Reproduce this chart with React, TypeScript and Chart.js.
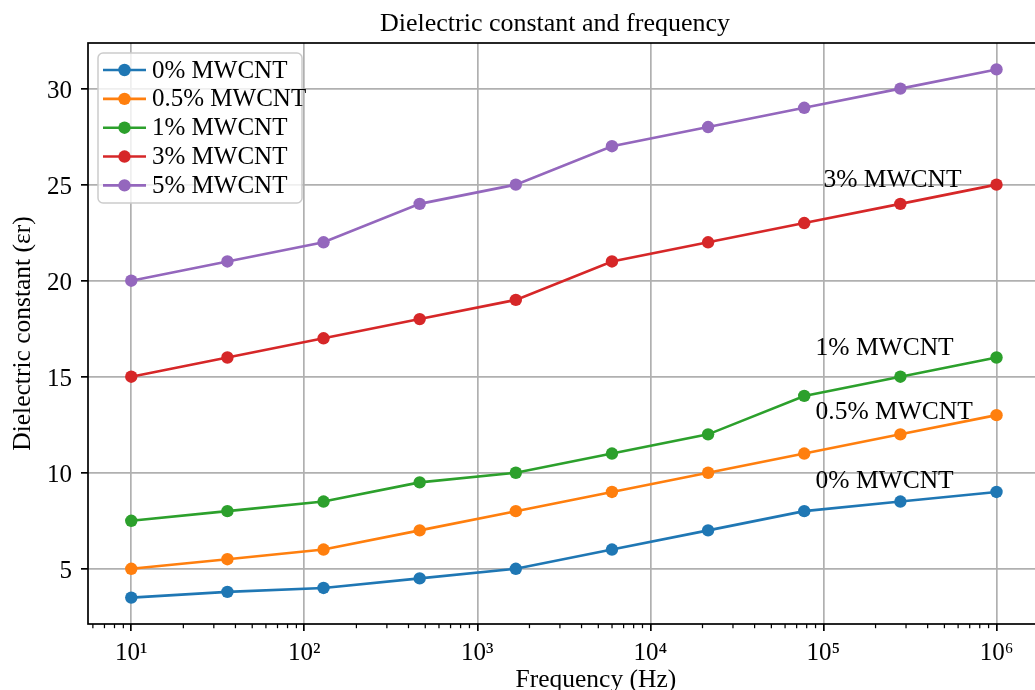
import React, { useEffect, useRef } from 'react';
import { Chart, registerables } from 'chart.js';

Chart.register(...registerables);

const FONT = "'Liberation Serif', 'Times New Roman', Times, serif";

// ---- data ----
const frequencies = [10, 35.94, 129.15, 464.16, 1668.1, 5994.8, 21544, 77426, 278256, 1000000];
const seriesLabels = ['0% MWCNT', '0.5% MWCNT', '1% MWCNT', '3% MWCNT', '5% MWCNT'];
const mwcnt0 = [3.5, 3.8, 4.0, 4.5, 5.0, 6.0, 7.0, 8.0, 8.5, 9.0];
const mwcnt05 = [5.0, 5.5, 6.0, 7.0, 8.0, 9.0, 10.0, 11.0, 12.0, 13.0];
const mwcnt1 = [7.5, 8.0, 8.5, 9.5, 10.0, 11.0, 12.0, 14.0, 15.0, 16.0];
const mwcnt3 = [15, 16, 17, 18, 19, 21, 22, 23, 24, 25];
const mwcnt5 = [20, 21, 22, 24, 25, 27, 28, 29, 30, 31];
const seriesValues = [mwcnt0, mwcnt05, mwcnt1, mwcnt3, mwcnt5];
const seriesColors = ['#1f77b4', '#ff7f0e', '#2ca02c', '#d62728', '#9467bd'];

const xMajorTicks = [10, 100, 1000, 10000, 100000, 1000000];
const xTickLabels = ['10¹', '10²', '10³', '10⁴', '10⁵', '10⁶'];
const yTicks = [5, 10, 15, 20, 25, 30];

const annotationTexts = ['3% MWCNT', '1% MWCNT', '0.5% MWCNT', '0% MWCNT'];
const annotationX = [100000, 90000, 90000, 90000];
const annotationY = [24.9, 16.15, 12.8, 9.2];

const titleText = 'Dielectric constant and frequency';
const xTitle = 'Frequency (Hz)';
const yTitle = 'Dielectric constant (εr)';

// axis limits
const X_MIN = Math.pow(10, 0.75);
const X_MAX = Math.pow(10, 6.62);
const X_SPINE_END = Math.pow(10, 6.25);
const Y_MIN = 2.125;
const Y_MAX = 32.375;

const overlayPlugin = {
  id: 'mplOverlay',
  afterDatasetsDraw(chart: any) {
    const { ctx, chartArea: ca, scales } = chart;
    const xs = scales.x;
    const ys = scales.y;
    ctx.save();

    // spines
    const rightEdge = xs.getPixelForValue(X_SPINE_END);
    ctx.strokeStyle = '#000';
    ctx.lineWidth = 1.7;
    ctx.strokeRect(ca.left, ca.top, rightEdge - ca.left, ca.bottom - ca.top);

    // minor ticks on log axis
    ctx.lineWidth = 1.25;
    for (let e = 0; e <= 5; e++) {
      for (let m = 2; m <= 9; m++) {
        const v = m * Math.pow(10, e);
        if (v <= X_MIN || v >= X_SPINE_END) continue;
        const px = xs.getPixelForValue(v);
        ctx.beginPath();
        ctx.moveTo(px, ca.bottom);
        ctx.lineTo(px, ca.bottom + 4.2);
        ctx.stroke();
      }
    }

    // annotations
    ctx.fillStyle = '#000';
    ctx.font = `25.5px ${FONT}`;
    ctx.textAlign = 'left';
    ctx.textBaseline = 'alphabetic';
    annotationTexts.forEach((t, i) => {
      ctx.fillText(t, xs.getPixelForValue(annotationX[i]), ys.getPixelForValue(annotationY[i]));
    });

    // legend
    const lx = 98, ly = 53, lw = 204, lh = 150;
    ctx.beginPath();
    ctx.roundRect(lx, ly, lw, lh, 5);
    ctx.fillStyle = 'rgba(255,255,255,0.8)';
    ctx.fill();
    ctx.strokeStyle = '#cccccc';
    ctx.lineWidth = 1.5;
    ctx.stroke();

    ctx.font = `25px ${FONT}`;
    ctx.textBaseline = 'middle';
    chart.data.datasets.forEach((ds: any, i: number) => {
      const cy = 70 + i * 28.85;
      ctx.strokeStyle = ds.borderColor;
      ctx.lineWidth = 2.6;
      ctx.beginPath();
      ctx.moveTo(103, cy);
      ctx.lineTo(146, cy);
      ctx.stroke();
      ctx.fillStyle = ds.backgroundColor;
      ctx.beginPath();
      ctx.arc(124.5, cy, 6.2, 0, Math.PI * 2);
      ctx.fill();
      ctx.fillStyle = '#000';
      ctx.fillText(ds.label, 152, cy + 1);
    });

    ctx.restore();
  },
};

export default function App() {
  const ref = useRef<HTMLCanvasElement>(null);

  useEffect(() => {
    const canvas = ref.current;
    if (!canvas) return;
    const datasets = seriesLabels.map((label, i) => ({
      label,
      data: frequencies.map((f, j) => ({ x: f, y: seriesValues[i][j] })),
      borderColor: seriesColors[i],
      backgroundColor: seriesColors[i],
      borderWidth: 2.6,
      pointRadius: 6.2,
      pointHoverRadius: 6.2,
      pointBorderWidth: 0,
      tension: 0,
      fill: false,
      order: seriesLabels.length - i,
    }));

    const chart = new Chart(canvas, {
      type: 'line',
      data: { datasets },
      options: {
        animation: false,
        responsive: false,
        devicePixelRatio: 1,
        events: [],
        layout: { padding: 0 },
        plugins: {
          legend: { display: false },
          tooltip: { enabled: false },
          title: {
            display: true,
            text: titleText,
            color: '#000',
            font: { family: FONT, size: 26, weight: 'normal' },
            padding: { top: 8.4, bottom: 3.4 },
          },
        },
        scales: {
          x: {
            type: 'logarithmic',
            min: X_MIN,
            max: X_MAX,
            afterBuildTicks: (s: any) => {
              s.ticks = xMajorTicks.map((v) => ({ value: v, major: true }));
            },
            afterFit: (s: any) => {
              s.height = 76;
            },
            ticks: {
              autoSkip: false,
              maxRotation: 0,
              color: '#000',
              padding: 7.5,
              font: { family: FONT, size: 25 },
              callback: (v: any) => {
                const idx = xMajorTicks.indexOf(Number(v));
                return idx >= 0 ? xTickLabels[idx] : '';
              },
            },
            grid: {
              color: '#b0b0b0',
              lineWidth: 1.7,
              drawTicks: true,
              tickLength: 7,
              tickColor: '#000',
              tickWidth: 1.7,
            },
            border: { display: false },
            title: {
              display: true,
              text: xTitle,
              color: '#000',
              font: { family: FONT, size: 25.5 },
              padding: { top: 0, bottom: 4 },
            },
          },
          y: {
            type: 'linear',
            min: Y_MIN,
            max: Y_MAX,
            afterBuildTicks: (s: any) => {
              s.ticks = yTicks.map((v) => ({ value: v }));
            },
            afterFit: (s: any) => {
              s.width = 88;
            },
            ticks: {
              color: '#000',
              padding: 9,
              labelOffset: 2.5,
              font: { family: FONT, size: 25 },
            },
            grid: {
              color: '#b0b0b0',
              lineWidth: 1.7,
              drawTicks: true,
              tickLength: 7,
              tickColor: '#000',
              tickWidth: 1.7,
            },
            border: { display: false },
            title: {
              display: true,
              text: yTitle,
              color: '#000',
              font: { family: FONT, size: 25.5 },
              padding: { top: 8, bottom: 0 },
            },
          },
        },
      },
      plugins: [overlayPlugin],
    } as any);

    return () => chart.destroy();
  }, []);

  return (
    <div
      style={{
        position: 'fixed',
        left: 0,
        top: 0,
        width: 1035,
        height: 690,
        overflow: 'hidden',
        background: '#fff',
      }}
    >
      <canvas ref={ref} width={1110} height={700} style={{ display: 'block', width: 1110, height: 700 }} />
    </div>
  );
}
